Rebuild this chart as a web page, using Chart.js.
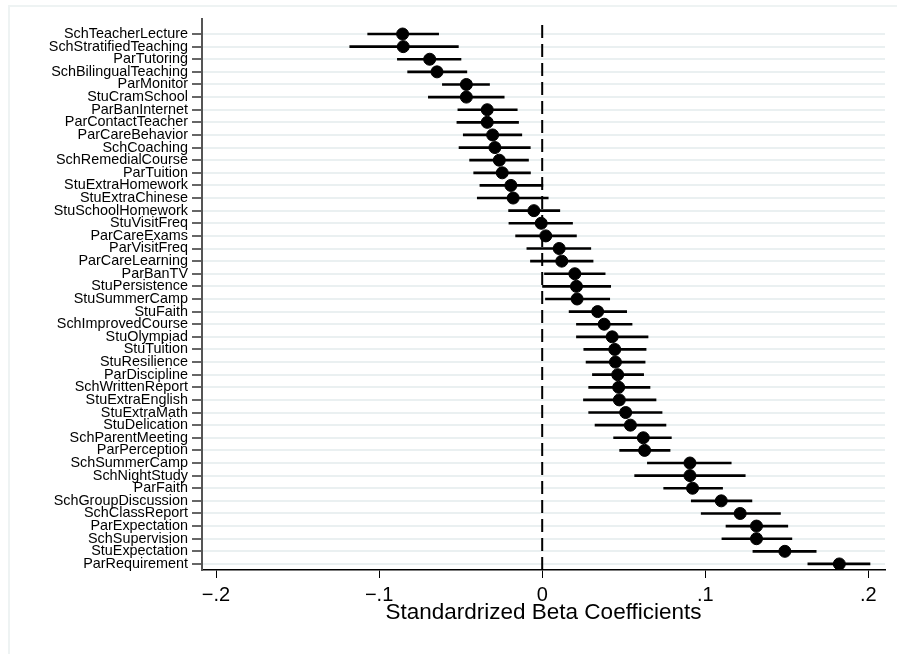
<!DOCTYPE html>
<html lang="en">
<head>
    <meta charset="UTF-8">
    <title>Standardized Beta Coefficients</title>
    <script src="https://cdn.jsdelivr.net/npm/chart.js"></script>
    <style>
        body { margin: 0; background: #fff; }
        #wrap { position: relative; width: 897px; height: 654px; overflow: hidden; }
        /* faint outer frame of the graph region */
        #frame { position: absolute; left: 8px; top: 5px; width: 1000px; height: 1000px;
                 border-left: 2px solid #eef3f3; border-top: 2px solid #eef3f3; }
        #coefChart { position: absolute; left: 0; top: 0; }
    </style>
</head>
<body>
<div id="wrap">
    <div id="frame"></div>
    <canvas id="coefChart" width="897" height="654"></canvas>
</div>
<script>
    // predictors, ordered from most negative to most positive effect
    const labels = [
        'SchTeacherLecture', 'SchStratifiedTeaching', 'ParTutoring', 'SchBilingualTeaching',
        'ParMonitor', 'StuCramSchool', 'ParBanInternet', 'ParContactTeacher', 'ParCareBehavior',
        'SchCoaching', 'SchRemedialCourse', 'ParTuition', 'StuExtraHomework', 'StuExtraChinese',
        'StuSchoolHomework', 'StuVisitFreq', 'ParCareExams', 'ParVisitFreq', 'ParCareLearning',
        'ParBanTV', 'StuPersistence', 'StuSummerCamp', 'StuFaith', 'SchImprovedCourse',
        'StuOlympiad', 'StuTuition', 'StuResilience', 'ParDiscipline', 'SchWrittenReport',
        'StuExtraEnglish', 'StuExtraMath', 'StuDelication', 'SchParentMeeting', 'ParPerception',
        'SchSummerCamp', 'SchNightStudy', 'ParFaith', 'SchGroupDiscussion', 'SchClassReport',
        'ParExpectation', 'SchSupervision', 'StuExpectation', 'ParRequirement'
    ];

    // point estimates
    const coef = [
        -0.0856, -0.0852, -0.0690, -0.0645, -0.0465, -0.0465, -0.0337, -0.0337, -0.0304,
        -0.0290, -0.0263, -0.0245, -0.0192, -0.0178, -0.0051, -0.0006, 0.0022, 0.0104, 0.0120,
        0.0200, 0.0210, 0.0214, 0.0340, 0.0380, 0.0429, 0.0445, 0.0449, 0.0463, 0.0469,
        0.0473, 0.0512, 0.0541, 0.0620, 0.0628, 0.0906, 0.0906, 0.0922, 0.1098, 0.1214,
        0.1314, 0.1314, 0.1488, 0.1822
    ];

    // confidence interval bounds
    const ciLow = [
        -0.1070, -0.1180, -0.0888, -0.0825, -0.0612, -0.0698, -0.0517, -0.0523, -0.0484,
        -0.0510, -0.0445, -0.0420, -0.0382, -0.0398, -0.0206, -0.0204, -0.0163, -0.0094, -0.0072,
        0.0014, 0.0002, 0.0020, 0.0165, 0.0210, 0.0210, 0.0255, 0.0269, 0.0308, 0.0285,
        0.0253, 0.0285, 0.0324, 0.0438, 0.0475, 0.0645, 0.0567, 0.0745, 0.0914, 0.0975,
        0.1127, 0.1102, 0.1292, 0.1629
    ];
    const ciHigh = [
        -0.0635, -0.0514, -0.0498, -0.0462, -0.0323, -0.0233, -0.0153, -0.0145, -0.0125,
        -0.0073, -0.0084, -0.0072, 0.0004, 0.0037, 0.0108, 0.0186, 0.0210, 0.0298, 0.0312,
        0.0386, 0.0420, 0.0414, 0.0518, 0.0551, 0.0649, 0.0637, 0.0631, 0.0622, 0.0661,
        0.0698, 0.0735, 0.0759, 0.0792, 0.0784, 0.1159, 0.1245, 0.1106, 0.1286, 0.1461,
        0.1506, 0.1531, 0.1680, 0.2010
    ];

    const xTicks = [-0.2, -0.1, 0, 0.1, 0.2];
    const xTickLabels = ['\u2212.2', '\u2212.1', '0', '.1', '.2'];

    const fontFamily = '"Liberation Sans", Arial, Helvetica, sans-serif';

    const ctx = document.getElementById('coefChart').getContext('2d');
    new Chart(ctx, {
        type: 'bar',
        data: {
            datasets: [
                {
                    // reference line at zero
                    type: 'line',
                    data: [{ x: 0, y: 42.48 }, { x: 0, y: -1.19 }],
                    borderColor: '#000',
                    borderWidth: 2,
                    borderDash: [13, 6],
                    pointRadius: 0,
                    order: 2
                },
                {
                    // confidence intervals as thin floating bars
                    type: 'bar',
                    indexAxis: 'y',
                    data: labels.map((_, i) => ({ x: [ciLow[i], ciHigh[i]], y: i })),
                    backgroundColor: '#000',
                    borderWidth: 0,
                    barThickness: 2,
                    order: 1
                },
                {
                    type: 'scatter',
                    data: coef.map((v, i) => ({ x: v, y: i })),
                    backgroundColor: '#000',
                    borderColor: '#000',
                    pointRadius: 6,
                    pointHoverRadius: 6,
                    order: 0
                }
            ]
        },
        options: {
            responsive: false,
            animation: false,
            devicePixelRatio: 1,
            layout: { padding: { top: 19, right: 12, left: 0, bottom: 0 } },
            plugins: { legend: { display: false }, tooltip: { enabled: false } },
            scales: {
                x: {
                    type: 'linear',
                    offset: false,
                    min: -0.2086,
                    max: 0.2102,
                    afterBuildTicks: (scale) => { scale.ticks = xTicks.map(v => ({ value: v })); },
                    afterFit: (scale) => { scale.height = 84; },
                    ticks: {
                        autoSkip: false,
                        maxRotation: 0,
                        padding: 5,
                        color: '#000',
                        font: { family: fontFamily, size: 20 },
                        callback: (v, i) => xTickLabels[i]
                    },
                    grid: {
                        offset: false,
                        drawOnChartArea: false,
                        drawTicks: true,
                        tickLength: 8,
                        tickColor: '#000',
                        tickWidth: 1
                    },
                    border: { display: true, color: '#000', width: 1.5 },
                    title: {
                        display: true,
                        text: 'Standardrized Beta Coefficients',
                        color: '#000',
                        font: { family: fontFamily, size: 22.5 },
                        padding: { top: 0, bottom: 28 }
                    }
                },
                y: {
                    type: 'linear',
                    offset: false,
                    reverse: true,
                    min: -1.19,
                    max: 42.48,
                    afterBuildTicks: (scale) => { scale.ticks = labels.map((_, i) => ({ value: i })); },
                    afterFit: (scale) => { scale.width = 202; },
                    ticks: {
                        autoSkip: false,
                        padding: 4,
                        color: '#000',
                        font: { family: fontFamily, size: 14.4 },
                        callback: (v) => labels[v]
                    },
                    grid: {
                        offset: false,
                        color: '#eaf0f1',
                        lineWidth: 2,
                        tickLength: 10,
                        tickColor: '#333',
                        tickWidth: 1.5
                    },
                    border: { display: true, color: '#555', width: 2 }
                }
            }
        }
    });
</script>
</body>
</html>
